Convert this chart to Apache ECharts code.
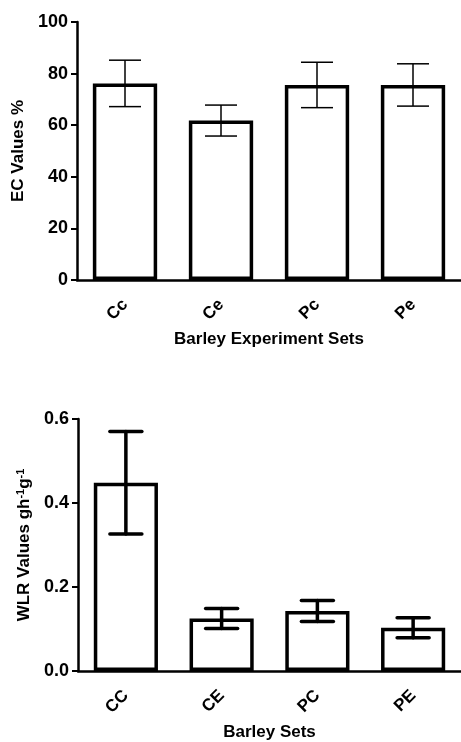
<!DOCTYPE html>
<html>
<head>
<meta charset="utf-8">
<script src="https://cdn.jsdelivr.net/npm/echarts@6/dist/echarts.min.js"></script>
<style>
  html, body { margin: 0; padding: 0; background: #fff; }
  #chart { width: 461px; height: 742px; }
</style>
</head>
<body>
<div id="chart"></div>
<script>
// top panel: EC values
const ecSets = ['Cc', 'Ce', 'Pc', 'Pe']
const ecMean = [76.2, 61.8, 75.6, 75.6]
const ecErr = [9.0, 6.0, 8.8, 8.2]
const ecTicks = [0, 20, 40, 60, 80, 100]

// bottom panel: WLR values
const wlrSets = ['CC', 'CE', 'PC', 'PE']
const wlrMean = [0.448, 0.125, 0.143, 0.103]
const wlrErr = [0.122, 0.024, 0.025, 0.024]
const wlrTicks = [0.0, 0.2, 0.4, 0.6]

const font = '"Liberation Sans", Arial, sans-serif'

function errorSeries (idx, means, errs, lineWidth, capWidth, round) {
  return {
    type: 'custom',
    xAxisIndex: idx,
    yAxisIndex: idx,
    silent: true,
    z: 5,
    data: means.map((m, i) => [i, m - errs[i], m + errs[i]]),
    renderItem: function (params, api) {
      const lo = api.coord([api.value(0), api.value(1)])
      const hi = api.coord([api.value(0), api.value(2)])
      const x = lo[0]
      const half = capWidth / 2
      const style = { stroke: '#000', lineWidth: lineWidth, lineCap: round ? 'round' : 'butt' }
      return {
        type: 'group',
        children: [
          { type: 'line', shape: { x1: x, y1: lo[1], x2: x, y2: hi[1] }, style: style },
          { type: 'line', shape: { x1: x - half, y1: lo[1], x2: x + half, y2: lo[1] }, style: style },
          { type: 'line', shape: { x1: x - half, y1: hi[1], x2: x + half, y2: hi[1] }, style: style }
        ]
      }
    }
  }
}

function xAxisFor (idx, cats, name, gap) {
  return {
    type: 'category',
    gridIndex: idx,
    data: cats,
    name: name,
    nameLocation: 'middle',
    nameGap: gap,
    nameTextStyle: { fontFamily: font, fontWeight: 'bold', fontSize: 17, color: '#000' },
    axisLine: { lineStyle: { color: '#000', width: 2.5 } },
    axisTick: { alignWithLabel: true, length: 6, lineStyle: { color: '#000', width: 2 } },
    axisLabel: { rotate: 45, margin: 22, fontFamily: font, fontWeight: 'bold', fontSize: 17, color: '#000' }
  }
}

function yAxisFor (idx, ticks, name, gap, rich, fmt) {
  return {
    type: 'value',
    gridIndex: idx,
    min: ticks[0],
    max: ticks[ticks.length - 1],
    interval: ticks[1] - ticks[0],
    name: name,
    nameLocation: 'middle',
    nameGap: gap,
    nameTextStyle: { fontFamily: font, fontWeight: 'bold', fontSize: 17, color: '#000', rich: rich },
    axisLine: { show: true, lineStyle: { color: '#000', width: 2.5 } },
    axisTick: { show: true, length: 6, lineStyle: { color: '#000', width: 2 } },
    axisLabel: { margin: 9, fontFamily: font, fontWeight: 'bold', fontSize: 18, color: '#000', formatter: fmt },
    splitLine: { show: false }
  }
}

const chart = echarts.init(document.getElementById('chart'))

const supStyle = { fontFamily: font, fontWeight: 'bold', fontSize: 11, color: '#000', verticalAlign: 'bottom', padding: [0, 0, 8, 0] }

chart.setOption({
  animation: false,
  grid: [
    { left: 77, top: 22, width: 384, height: 258 },
    { left: 78, top: 419, width: 384, height: 254 }
  ],
  xAxis: [
    xAxisFor(0, ecSets, 'Barley Experiment Sets', 51),
    xAxisFor(1, wlrSets, 'Barley Sets', 53)
  ],
  yAxis: [
    yAxisFor(0, ecTicks, 'EC Values %', 48, {}, v => String(v)),
    yAxisFor(1, wlrTicks, 'WLR Values gh{sup|-1}g{sup|-1}', 42, { sup: supStyle }, v => v.toFixed(1))
  ],
  series: [
    {
      type: 'bar',
      xAxisIndex: 0,
      yAxisIndex: 0,
      data: ecMean,
      barWidth: '67%',
      itemStyle: { color: '#fff', borderColor: '#000', borderWidth: 3.5 }
    },
    errorSeries(0, ecMean, ecErr, 1.5, 32, false),
    {
      type: 'bar',
      xAxisIndex: 1,
      yAxisIndex: 1,
      data: wlrMean,
      barWidth: '67%',
      itemStyle: { color: '#fff', borderColor: '#000', borderWidth: 3.5 }
    },
    errorSeries(1, wlrMean, wlrErr, 3.5, 32, true)
  ]
})
</script>
</body>
</html>
